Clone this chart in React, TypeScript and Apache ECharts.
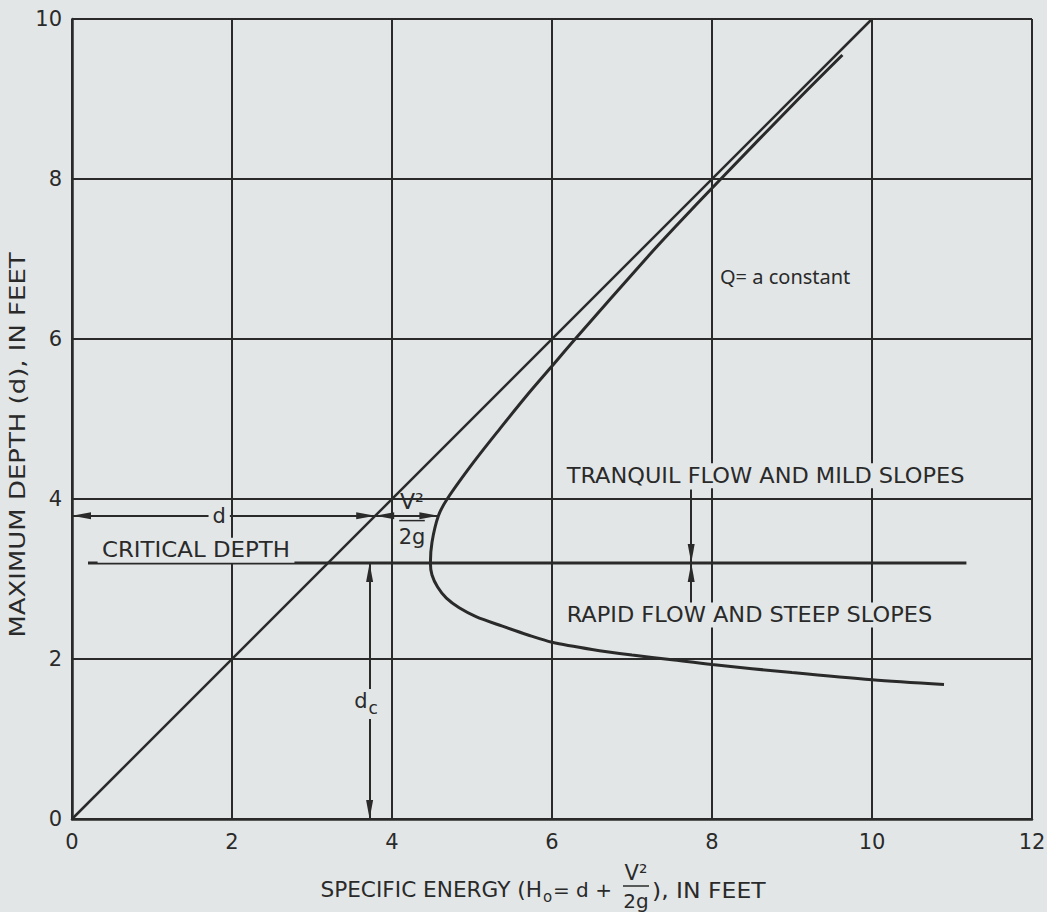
import React, { useEffect, useRef } from 'react';
import * as echarts from 'echarts';

// ---------- data ----------
const X_TICK_LABELS = ['0', '2', '4', '6', '8', '10', '12'];
const Y_TICK_LABELS = ['0', '2', '4', '6', '8', '10'];

// line of d = H (45 degree line)
const diagonal: number[][] = [[0, 0], [10, 10]];

// specific energy curve, upper (tranquil) branch from the top down to the vertex
const curveUpper: number[][] = [
  [9.63, 9.55], [9.08, 9.0], [8.11, 8.0], [7.53, 7.39], [7.18, 7.01],
  [6.29, 6.0], [5.99, 5.65], [5.69, 5.3], [5.35, 4.88], [5.02, 4.46],
  [4.69, 4.0], [4.58, 3.79], [4.5, 3.46], [4.48, 3.2],
];
// lower (rapid) branch from the vertex to the right end
const curveLower: number[][] = [
  [4.5, 3.05], [4.57, 2.9], [4.68, 2.76], [4.84, 2.64], [5.05, 2.53],
  [5.38, 2.41], [5.7, 2.3], [6.0, 2.21], [6.5, 2.12], [7.0, 2.05],
  [7.5, 1.99], [8.0, 1.93], [9.0, 1.83], [10.0, 1.74], [10.9, 1.68],
];

const criticalDepth = 3.2;
const criticalLine: number[][] = [[0.2, criticalDepth], [11.18, criticalDepth]];

// dimension arrows
const depthArrow: number[][] = [[0, 3.79], [3.79, 3.79]];
const velocityHeadArrow: number[][] = [[3.79, 3.79], [4.58, 3.79]];
const criticalDepthArrow: number[][] = [[3.72, 0], [3.72, criticalDepth]];
const tranquilArrow: number[][] = [[7.74, 4.12], [7.74, criticalDepth]];
const rapidArrow: number[][] = [[7.74, 2.7], [7.74, criticalDepth]];

// annotation anchors
const qLabelPos = [8.1, 6.78];
const tranquilLabelPos = [6.13, 4.29];
const rapidLabelPos = [6.13, 2.55];
const criticalLabelPos = [0.32, 3.36];
const dLabelPos = [1.84, 3.79];
const dcLabelPos = [3.72, 1.45];
const fracPos = { x: 4.25, num: 3.97, bar: 3.73, den: 3.52, half: 0.16 };

// ---------- style ----------
const BG = '#e2e6e7';
const INK = '#2a2a2a';
const FONT = '"DejaVu Sans", sans-serif';

const head = (size = 19) => ({
  symbol: 'triangle',
  symbolSize: [7, size],
  symbolOffset: [0, size / 2],
});

function arrowItem(seg: number[][], both: boolean) {
  return [
    both ? { coord: seg[0], ...head() } : { coord: seg[0], symbol: 'none' },
    { coord: seg[1], ...head() },
  ];
}

export default function App() {
  const ref = useRef<HTMLDivElement>(null);

  useEffect(() => {
    document.body.style.margin = '0';
    document.body.style.background = BG;
    const chart = echarts.init(ref.current!, null, { renderer: 'svg' });

    const option: any = {
      animation: false,
      backgroundColor: BG,
      grid: { left: 72, right: 15, top: 19, bottom: 93, containLabel: false, outerBoundsMode: 'none' },
      xAxis: {
        type: 'value', min: 0, max: 12, interval: 2,
        axisLine: { show: true, onZero: false, lineStyle: { color: INK, width: 2.5 } },
        axisTick: { show: false },
        splitLine: { show: true, lineStyle: { color: INK, width: 2 } },
        axisLabel: {
          color: INK, fontSize: 21, fontFamily: FONT, margin: 12,
          formatter: (v: number) => X_TICK_LABELS[Math.round(v / 2)] ?? String(v),
        },
      },
      yAxis: {
        type: 'value', min: 0, max: 10, interval: 2,
        axisLine: { show: true, onZero: false, lineStyle: { color: INK, width: 2.5 } },
        axisTick: { show: false },
        splitLine: { show: true, lineStyle: { color: INK, width: 2 } },
        axisLabel: {
          color: INK, fontSize: 21, fontFamily: FONT, margin: 10,
          formatter: (v: number) => Y_TICK_LABELS[Math.round(v / 2)] ?? String(v),
        },
      },
      series: [
        {
          type: 'line', data: diagonal, symbol: 'none', silent: true,
          lineStyle: { color: INK, width: 2.5 }, z: 3,
        },
        {
          type: 'line', data: [...curveUpper, ...curveLower], symbol: 'none', silent: true,
          smooth: 0.3, lineStyle: { color: INK, width: 3 }, z: 3,
        },
        {
          type: 'line', data: criticalLine, symbol: 'none', silent: true,
          lineStyle: { color: INK, width: 3 }, z: 3,
        },
        {
          type: 'line', data: [], silent: true, z: 4,
          markLine: {
            silent: true, animation: false,
            label: { show: false },
            lineStyle: { color: INK, width: 2, type: 'solid' },
            itemStyle: { color: INK },
            data: [
              arrowItem(depthArrow, true),
              arrowItem(velocityHeadArrow, true),
              arrowItem(criticalDepthArrow, true),
              arrowItem(tranquilArrow, false),
              arrowItem(rapidArrow, false),
            ],
          },
        },
      ],
    };
    chart.setOption(option);

    const p = (x: number, y: number) => chart.convertToPixel({ gridIndex: 0 } as any, [x, y]) as number[];
    const txt = (pos: number[], text: string, size: number, align: string, bg: boolean, sx = 1, family = FONT) => {
      const [x, y] = p(pos[0], pos[1]);
      return {
        type: 'text', x, y, z: 100, scaleX: sx,
        style: {
          text, fill: INK, font: `${size}px ${family}`, align, verticalAlign: 'middle',
          ...(bg ? { backgroundColor: BG, padding: [2, 4] } : {}),
        },
      };
    };
    const [fx, fnY] = p(fracPos.x, fracPos.num);
    const [, fdY] = p(fracPos.x, fracPos.den);
    const [fb0, fbY] = p(fracPos.x - fracPos.half, fracPos.bar);
    const [fb1] = p(fracPos.x + fracPos.half, fracPos.bar);
    const [dcx, dcy] = p(dcLabelPos[0], dcLabelPos[1]);

    const graphic: any[] = [
      txt(qLabelPos, 'Q= a constant', 20, 'left', false, 1, '"Noto Sans", sans-serif'),
      txt(tranquilLabelPos, 'TRANQUIL FLOW AND MILD SLOPES', 21, 'left', true, 1.07),
      txt(rapidLabelPos, 'RAPID FLOW AND STEEP SLOPES', 21, 'left', true, 1.07),
      txt(criticalLabelPos, 'CRITICAL DEPTH', 21, 'left', true, 1.09),
      txt(dLabelPos, 'd', 21, 'center', true),
      // velocity head fraction
      { type: 'text', x: fx, y: fnY, z: 100, style: { text: 'V²', fill: INK, font: `22px ${FONT}`, align: 'center', verticalAlign: 'middle' } },
      { type: 'line', z: 100, shape: { x1: fb0, y1: fbY, x2: fb1, y2: fbY }, style: { stroke: INK, lineWidth: 1.5 } },
      { type: 'text', x: fx, y: fdY, z: 100, style: { text: '2g', fill: INK, font: `21px ${FONT}`, align: 'center', verticalAlign: 'middle' } },
      // critical depth label d_c
      { type: 'rect', z: 99, shape: { x: dcx - 14, y: dcy - 14, width: 28, height: 30 }, style: { fill: BG } },
      { type: 'text', x: dcx - 2, y: dcy - 2, z: 100, style: { text: 'd', fill: INK, font: `21px ${FONT}`, align: 'right', verticalAlign: 'middle' } },
      { type: 'text', x: dcx - 1, y: dcy + 5, z: 100, style: { text: 'c', fill: INK, font: `17px ${FONT}`, align: 'left', verticalAlign: 'middle' } },
      // y axis title
      {
        type: 'text', x: 18, y: 445, rotation: Math.PI / 2, scaleX: 1.18, z: 100,
        style: { text: 'MAXIMUM DEPTH (d), IN FEET', fill: INK, font: `22px ${FONT}`, align: 'center', verticalAlign: 'middle' },
      },
      // x axis title
      { type: 'text', x: 542, y: 890, z: 100, scaleX: 1.03, style: { text: 'SPECIFIC ENERGY (H', fill: INK, font: `21px ${FONT}`, align: 'right', verticalAlign: 'middle' } },
      { type: 'text', x: 543, y: 897, z: 100, style: { text: 'o', fill: INK, font: `15px ${FONT}`, align: 'left', verticalAlign: 'middle' } },
      { type: 'text', x: 553, y: 890, z: 100, style: { text: '= d +', fill: INK, font: `20px ${FONT}`, align: 'left', verticalAlign: 'middle' } },
      { type: 'text', x: 636, y: 873, z: 100, style: { text: 'V²', fill: INK, font: `21px ${FONT}`, align: 'center', verticalAlign: 'middle' } },
      { type: 'line', z: 100, shape: { x1: 623, y1: 886, x2: 649, y2: 886 }, style: { stroke: INK, lineWidth: 1.5 } },
      { type: 'text', x: 636, y: 901, z: 100, style: { text: '2g', fill: INK, font: `20px ${FONT}`, align: 'center', verticalAlign: 'middle' } },
      { type: 'text', x: 652, y: 890, z: 100, scaleX: 1.12, style: { text: '), IN FEET', fill: INK, font: `21px ${FONT}`, align: 'left', verticalAlign: 'middle' } },
    ];
    chart.setOption({ graphic });

    return () => chart.dispose();
  }, []);

  return <div ref={ref} style={{ position: 'absolute', left: 0, top: 0, width: 1047, height: 912 }} />;
}
